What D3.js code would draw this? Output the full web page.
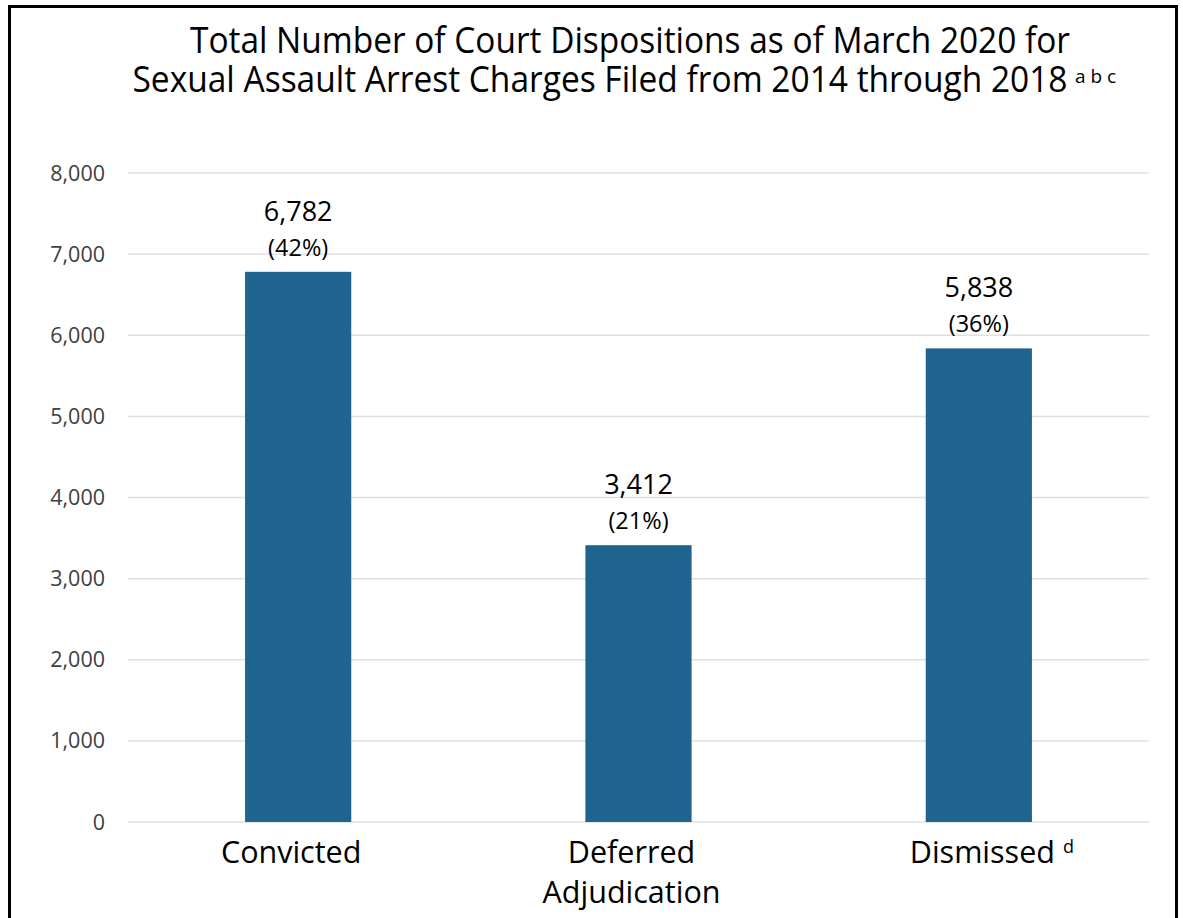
<!DOCTYPE html>
<html>
<head>
<meta charset="utf-8">
<script src="https://cdn.jsdelivr.net/npm/d3@7"></script>
<style>
  body { margin: 0; background: #fff; }
  text { font-family: "Open Sans", "Noto Sans", sans-serif; }
</style>
</head>
<body>
<div id="main"></div>
<script>
  var categories = ["Convicted", "Deferred Adjudication", "Dismissed"];
  var catLines = [["Convicted"], ["Deferred", "Adjudication"], ["Dismissed"]];
  var catNotes = ["", "", "d"];
  var values = [6782, 3412, 5838];
  var percents = ["(42%)", "(21%)", "(36%)"];
  var yTicks = [0, 1000, 2000, 3000, 4000, 5000, 6000, 7000, 8000];
  var titleLines = ["Total Number of Court Dispositions as of March 2020 for",
                    "Sexual Assault Arrest Charges Filed from 2014 through 2018"];
  var titleNote = "a b c";

  var W = 1183, H = 918;
  var plotLeft = 128, plotRight = 1149, plotTop = 173, plotBottom = 822;

  var svg = d3.select("#main").append("svg")
      .attr("width", W)
      .attr("height", H);

  // border
  svg.append("rect")
      .attr("x", 9.5).attr("y", 6.5)
      .attr("width", 1167).attr("height", 940)
      .attr("fill", "#fff")
      .attr("stroke", "#000")
      .attr("stroke-width", 3);

  var x = d3.scaleBand().domain(categories).range([plotLeft, plotRight]).padding(0);
  var y = d3.scaleLinear().domain([0, 8000]).range([plotBottom, plotTop]);
  var barW = x.bandwidth() * 0.312;

  // grid
  svg.append("g").selectAll("line")
    .data(yTicks)
    .join("line")
      .attr("x1", plotLeft).attr("x2", plotRight)
      .attr("y1", d => y(d)).attr("y2", d => y(d))
      .attr("stroke", "#e0e0e0")
      .attr("stroke-width", 1.5);

  // y axis labels
  svg.append("g").selectAll("text")
    .data(yTicks)
    .join("text")
      .attr("x", 105)
      .attr("y", d => y(d))
      .attr("dy", "0.35em")
      .attr("text-anchor", "end")
      .attr("font-size", 21.5)
      .attr("fill", "#404040")
      .text(d => d3.format(",")(d));

  // bars
  svg.append("g").selectAll("rect")
    .data(values)
    .join("rect")
      .attr("x", (d, i) => x(categories[i]) + x.bandwidth() / 2 - barW / 2)
      .attr("y", d => y(d))
      .attr("width", barW)
      .attr("height", d => y(0) - y(d))
      .attr("fill", "#1f638f");

  // value labels
  var lab = svg.append("g");
  lab.selectAll("text.v")
    .data(values)
    .join("text")
      .attr("class", "v")
      .attr("x", (d, i) => x(categories[i]) + x.bandwidth() / 2)
      .attr("y", d => y(d) - 51)
      .attr("text-anchor", "middle")
      .attr("font-size", 27)
      .attr("fill", "#000")
      .text(d => d3.format(",")(d));
  lab.selectAll("text.p")
    .data(values)
    .join("text")
      .attr("class", "p")
      .attr("x", (d, i) => x(categories[i]) + x.bandwidth() / 2)
      .attr("y", d => y(d) - 16)
      .attr("text-anchor", "middle")
      .attr("font-size", 23.5)
      .attr("fill", "#000")
      .text((d, i) => percents[i]);

  // category labels
  var cat = svg.append("g").selectAll("text")
    .data(categories)
    .join("text")
      .attr("y", 863)
      .attr("text-anchor", "middle")
      .attr("font-size", 30.5)
      .attr("fill", "#000");
  cat.each(function(d, i) {
    var t = d3.select(this);
    var cx = x(d) + x.bandwidth() / 2 + (catNotes[i] ? 13 : -7);
    catLines[i].forEach(function(line, j) {
      t.append("tspan")
        .attr("x", cx)
        .attr("dy", j === 0 ? 0 : 40)
        .text(line);
    });
    if (catNotes[i]) {
      t.append("tspan").text(" ");
      t.append("tspan")
        .attr("font-size", 18)
        .attr("baseline-shift", "10")
        .text(catNotes[i]);
    }
  });

  // title
  var title = svg.append("g");
  title.append("text")
      .attr("x", 630).attr("y", 53)
      .attr("text-anchor", "middle")
      .attr("font-size", 36)
      .attr("textLength", 880)
      .attr("lengthAdjust", "spacingAndGlyphs")
      .attr("fill", "#000")
      .text(titleLines[0]);
  title.append("text")
      .attr("x", 600).attr("y", 92)
      .attr("text-anchor", "middle")
      .attr("font-size", 36)
      .attr("textLength", 935)
      .attr("lengthAdjust", "spacingAndGlyphs")
      .attr("fill", "#000")
      .text(titleLines[1]);
  title.append("text")
      .attr("x", 1075).attr("y", 83)
      .attr("font-size", 19)
      .attr("fill", "#000")
      .text(titleNote);
</script>
</body>
</html>
